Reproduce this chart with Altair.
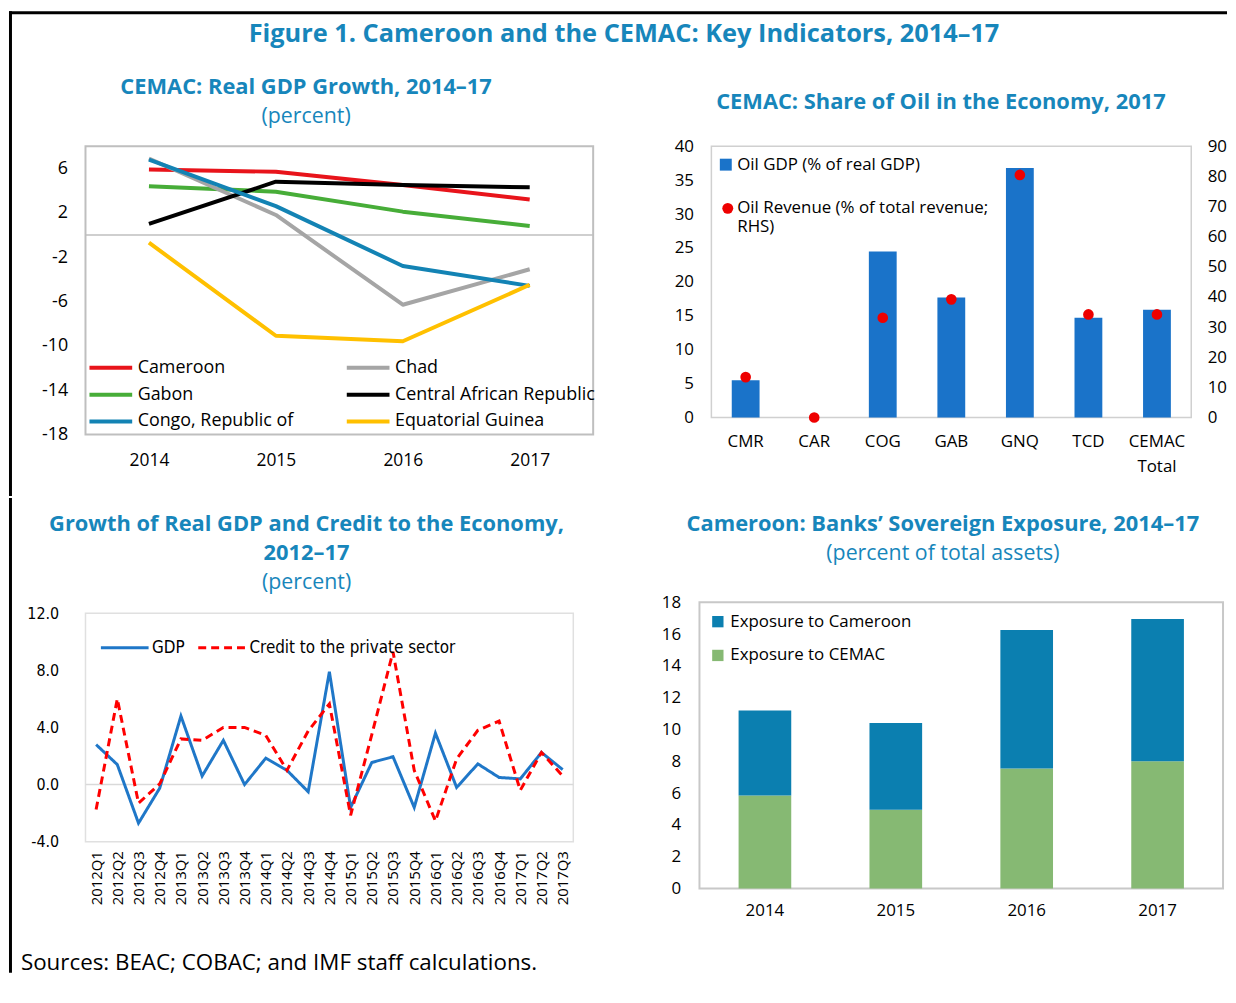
import altair as alt
import pandas as pd

FONT = "Open Sans"
NARROW = "Liberation Sans Narrow, DejaVu Sans Condensed, sans-serif"
TEAL = "#1786bb"

# ---------------- data ----------------
years = ["2014", "2015", "2016", "2017"]
# legend order (column-major, 3 rows x 2 columns)
countries = ["Cameroon", "Gabon", "Congo, Republic of", "Chad",
             "Central African Republic", "Equatorial Guinea"]
country_colors = ["#e8141b", "#47ad38", "#1383b4", "#a5a5a5", "#000000", "#ffc000"]
growth_cameroon = [5.9, 5.7, 4.5, 3.2]
growth_chad = [6.9, 1.8, -6.3, -3.1]
growth_gabon = [4.4, 3.9, 2.1, 0.8]
growth_car = [1.0, 4.8, 4.5, 4.3]
growth_congo = [6.8, 2.6, -2.8, -4.6]
growth_eqg = [-0.7, -9.1, -9.6, -4.5]

oil_codes = ["CMR", "CAR", "COG", "GAB", "GNQ", "TCD", "CEMAC Total"]
oil_gdp = [5.5, 0.0, 24.5, 17.7, 36.8, 14.7, 15.9]
oil_revenue = [13.4, 0.0, 33.1, 39.2, 80.5, 34.2, 34.2]

quarters = ["2012Q1", "2012Q2", "2012Q3", "2012Q4", "2013Q1", "2013Q2", "2013Q3", "2013Q4",
            "2014Q1", "2014Q2", "2014Q3", "2014Q4", "2015Q1", "2015Q2", "2015Q3", "2015Q4",
            "2016Q1", "2016Q2", "2016Q3", "2016Q4", "2017Q1", "2017Q2", "2017Q3"]
gdp_growth = [2.8, 1.4, -2.7, -0.25, 4.8, 0.6, 3.1, 0.0, 1.85, 1.0, -0.5, 7.9,
              -1.6, 1.55, 1.95, -1.6, 3.6, -0.2, 1.45, 0.5, 0.4, 2.25, 1.05]
credit_growth = [-1.75, 6.0, -1.3, 0.05, 3.2, 3.1, 4.0, 4.0, 3.45, 1.0, 3.75, 5.65,
                 -2.15, 3.5, 9.3, 1.0, -2.55, 1.8, 3.8, 4.45, -0.4, 2.25, 0.6]

exp_years = ["2014", "2015", "2016", "2017"]
exposure_cemac = [5.85, 4.95, 7.55, 8.0]
exposure_cameroon = [5.35, 5.45, 8.7, 8.95]

# ---------------- helpers (decoration) ----------------
one = pd.DataFrame({"k": [0]})


def deco_rect(x, x2, y, y2, color="#000000"):
    return alt.Chart(one).mark_rect(color=color).encode(
        x=alt.value(x), x2=alt.value(x2), y=alt.value(y), y2=alt.value(y2))


def deco_text(txt, x, y, size, bold=False, color=TEAL, align="center", font=FONT):
    return alt.Chart(one).mark_text(
        text=txt, fontSize=size, fontWeight="bold" if bold else "normal", color=color,
        align=align, baseline="middle", font=font).encode(x=alt.value(x), y=alt.value(y))


# ---------------- panel 1: real GDP growth ----------------
W1, H1 = 511, 290
draw_order = [("Cameroon", growth_cameroon), ("Gabon", growth_gabon), ("Chad", growth_chad),
              ("Central African Republic", growth_car), ("Congo, Republic of", growth_congo),
              ("Equatorial Guinea", growth_eqg)]
df1 = pd.DataFrame([{"country": c, "year": y, "value": v}
                    for c, vals in draw_order for y, v in zip(years, vals)])

enc_x1 = alt.X("year:O", sort=years, scale=alt.Scale(domain=years),
               axis=alt.Axis(title=None, labelAngle=0, labelFont=FONT, labelFontSize=17.5,
                             labelColor="#000000", labelPadding=17, ticks=False,
                             domain=False, grid=False))
enc_y1 = alt.Y("value:Q", scale=alt.Scale(domain=[-18, 8], nice=False, zero=False),
               axis=alt.Axis(title=None, values=[-18, -14, -10, -6, -2, 2, 6], labelFont=FONT,
                             labelFontSize=18, labelColor="#000000", labelPadding=18,
                             ticks=False, domain=False, grid=False,
                             labelExpr="replace(datum.label, '\u2212', '-')"))
leg1 = alt.Legend(title=None, orient="none", legendX=5, legendY=214, columns=2,
                  symbolType="M-4.3,0H4.3", symbolSize=100, symbolStrokeWidth=4,
                  symbolOffset=11.5, labelOffset=18, labelFont=FONT, labelFontSize=18,
                  labelColor="#000000", labelLimit=400, rowPadding=9, columnPadding=45)
zero1 = alt.Chart(pd.DataFrame({"value": [0]})).mark_rule(
    color="#bfbfbf", strokeWidth=1.5).encode(y=enc_y1)
lines1 = alt.Chart(df1).mark_line(strokeWidth=4, strokeJoin="round").encode(
    x=enc_x1, y=enc_y1,
    color=alt.Color("country:N", scale=alt.Scale(domain=countries, range=country_colors),
                    legend=leg1))
p1 = alt.layer(
    zero1, lines1,
    deco_rect(-77, 1149, -136, -133),
    deco_rect(-77, -74, -136, 352),
    deco_text("Figure 1. Cameroon and the CEMAC: Key Indicators, 2014\u201317", 542, -113, 25.5, bold=True),
    deco_text("CEMAC: Real GDP Growth, 2014\u201317", 222, -60, 22, bold=True),
    deco_text("(percent)", 222, -29, 21.5),
).properties(width=W1, height=H1, view=alt.ViewBackground(stroke="#bfbfbf", strokeWidth=2))

# ---------------- panel 2: share of oil ----------------
W2, H2 = 483, 273
df2 = pd.DataFrame({"code": oil_codes, "gdp": oil_gdp, "rev": oil_revenue,
                    "s1": "Oil GDP (% of real GDP)",
                    "s2": "Oil Revenue (% of total revenue; RHS)"})
enc_x2 = alt.X("code:N", sort=oil_codes, scale=alt.Scale(domain=oil_codes),
               axis=alt.Axis(title=None, labelAngle=0, labelFont=FONT, labelFontSize=17,
                             labelColor="#000000", labelPadding=16, ticks=False, domain=False,
                             labelExpr="datum.value == 'CEMAC Total' ? ['CEMAC', 'Total'] : datum.label",
                             labelLineHeight=25))
leg2a = alt.Legend(title=None, orient="none", legendX=6, legendY=10, symbolType="square",
                   symbolSize=144, symbolStrokeWidth=0, labelFont=FONT, labelFontSize=17,
                   labelColor="#000000", labelOffset=3, labelLimit=400)
leg2b = alt.Legend(title=None, orient="none", legendX=8, legendY=54, symbolType="circle",
                   symbolSize=121, symbolStrokeWidth=0, labelFont=FONT, labelFontSize=17,
                   labelColor="#000000", labelOffset=1, labelLimit=400,
                   labelExpr="['Oil Revenue (% of total revenue;', 'RHS)']")
bars2 = alt.Chart(df2).mark_bar(size=28).encode(
    x=enc_x2,
    y=alt.Y("gdp:Q", scale=alt.Scale(domain=[0, 40], nice=False),
            axis=alt.Axis(title=None, orient="left", values=list(range(0, 41, 5)),
                          labelFont=FONT, labelFontSize=17, labelColor="#000000",
                          labelPadding=18, ticks=False, domain=False, grid=False)),
    color=alt.Color("s1:N", scale=alt.Scale(range=["#1a73c9"]), legend=leg2a))
pts2 = alt.Chart(df2).mark_point(filled=True, size=115, opacity=1, color="#ee0000").encode(
    x=enc_x2,
    y=alt.Y("rev:Q", scale=alt.Scale(domain=[0, 90], nice=False),
            axis=alt.Axis(title=None, orient="right", values=list(range(0, 91, 10)),
                          labelFont=FONT, labelFontSize=17, labelColor="#000000",
                          labelPadding=16, ticks=False, domain=False, grid=False)),
    fill=alt.Fill("s2:N", scale=alt.Scale(range=["#ee0000"]), legend=leg2b))
p2 = alt.layer(
    bars2, pts2,
    deco_text("CEMAC: Share of Oil in the Economy, 2017", 231, -45, 22, bold=True),
).resolve_scale(y="independent").properties(
    width=W2, height=H2, view=alt.ViewBackground(stroke="#d0d0d0", strokeWidth=1.5))

# ---------------- panel 3: GDP and credit ----------------
W3, H3 = 491, 230
series3 = ["GDP", "Credit to the private sector"]
df3 = pd.DataFrame(
    [{"q": q, "v": v, "series": "GDP"} for q, v in zip(quarters, gdp_growth)] +
    [{"q": q, "v": v, "series": "Credit to the private sector"} for q, v in zip(quarters, credit_growth)])
enc_x3 = alt.X("q:O", sort=quarters, scale=alt.Scale(domain=quarters),
               axis=alt.Axis(title=None, labelAngle=270, labelFont=FONT, labelFontSize=15,
                             labelColor="#000000", labelPadding=9, ticks=False, domain=False))
enc_y3 = alt.Y("v:Q", scale=alt.Scale(domain=[-4, 12], nice=False, zero=False),
               axis=alt.Axis(title=None, values=[-4, 0, 4, 8, 12], format=".1f",
                             labelFont=NARROW, labelFontSize=16, labelColor="#000000",
                             labelPadding=27, ticks=False, domain=False, grid=False,
                             labelExpr="replace(datum.label, '\u2212', '-')"))
leg3 = alt.Legend(title=None, orient="none", direction="horizontal", legendX=17, legendY=26,
                  symbolType="M-4.8,0H4.8", symbolSize=100, symbolStrokeWidth=3,
                  symbolOffset=14, labelOffset=19, labelFont=NARROW, labelFontSize=17,
                  labelColor="#000000", labelLimit=400, columnPadding=7)
zero3 = alt.Chart(pd.DataFrame({"v": [0]})).mark_rule(color="#d9d9d9", strokeWidth=1.5).encode(y=enc_y3)
lines3 = alt.Chart(df3).mark_line(strokeWidth=3).encode(
    x=enc_x3, y=enc_y3,
    color=alt.Color("series:N", scale=alt.Scale(domain=series3, range=["#1f77c8", "#ff0000"]),
                    legend=leg3),
    strokeDash=alt.StrokeDash("series:N", scale=alt.Scale(domain=series3, range=[[1, 0], [8, 5]]),
                              legend=leg3))
p3 = alt.layer(
    zero3, lines3,
    deco_rect(-77, -74, -116, 362),
    deco_rect(508, 509, 0, 1, color="#ffffff"),
    deco_text("Growth of Real GDP and Credit to the Economy,", 222.5, -90, 22, bold=True),
    deco_text("2012\u201317", 222.5, -61, 22, bold=True),
    deco_text("(percent)", 222.5, -30, 21.5),
    deco_text("Sources: BEAC; COBAC; and IMF staff calculations.", -65, 352, 22.5,
              color="#000000", align="left"),
).properties(width=W3, height=H3, view=alt.ViewBackground(stroke="#e0e0e0", strokeWidth=1.5))

# ---------------- panel 4: banks' sovereign exposure ----------------
W4, H4 = 527, 288
series4 = ["Exposure to Cameroon", "Exposure to CEMAC"]
df4 = pd.DataFrame(
    [{"year": y, "v": v, "s": "Exposure to CEMAC", "o": 0} for y, v in zip(exp_years, exposure_cemac)] +
    [{"year": y, "v": v, "s": "Exposure to Cameroon", "o": 1} for y, v in zip(exp_years, exposure_cameroon)])
leg4 = alt.Legend(title=None, orient="none", legendX=10, legendY=11, symbolType="square",
                  symbolSize=130, symbolStrokeWidth=0, labelFont=FONT, labelFontSize=17,
                  labelColor="#000000", labelOffset=4, labelLimit=400, rowPadding=16)
bars4 = alt.Chart(df4).mark_bar(size=53).encode(
    x=alt.X("year:N", sort=exp_years, scale=alt.Scale(domain=exp_years),
            axis=alt.Axis(title=None, labelAngle=0, labelFont=FONT, labelFontSize=17,
                          labelColor="#000000", labelPadding=14, ticks=False, domain=False)),
    y=alt.Y("v:Q", stack="zero", scale=alt.Scale(domain=[0, 18], nice=False),
            axis=alt.Axis(title=None, values=list(range(0, 19, 2)), labelFont=FONT,
                          labelFontSize=17, labelColor="#000000", labelPadding=19,
                          ticks=False, domain=False, grid=False)),
    color=alt.Color("s:N", scale=alt.Scale(domain=series4, range=["#0b7fb0", "#86b973"]),
                    legend=leg4),
    order=alt.Order("o:Q"))
p4 = alt.layer(
    bars4,
    deco_rect(-60, -59, -105, -104, color="#ffffff"),
    deco_text("Cameroon: Banks\u2019 Sovereign Exposure, 2014\u201317", 245, -79, 22, bold=True),
    deco_text("(percent of total assets)", 245, -49, 21.5),
).properties(width=W4, height=H4, view=alt.ViewBackground(stroke="#c8c8c8", strokeWidth=2))

# ---------------- assembly ----------------
IND = dict(color="independent", fill="independent", strokeDash="independent")


def indep(c):
    return c.resolve_scale(**IND).resolve_legend(**IND)


spacer = alt.Chart(one).mark_point(opacity=0).encode(
    x=alt.value(0), y=alt.value(0)).properties(width=1, height=1)
p3_block = indep(alt.vconcat(spacer, p3, spacing=10, bounds="flush"))

row1 = indep(alt.concat(p1, p2, columns=2, spacing=119, bounds="flush", align="each"))
row2 = indep(alt.concat(p3_block, p4, columns=2, spacing=47, bounds="full", align="each"))
chart = indep(alt.concat(row1, row2, columns=1, spacing=0, bounds="full", align="each")).properties(
    padding={"left": 0, "top": -1, "right": 0, "bottom": 0}, background="white"
).configure(font=FONT).configure_view(stroke=None)

chart.save("out.html", embed_options={"renderer": "svg", "actions": False})
